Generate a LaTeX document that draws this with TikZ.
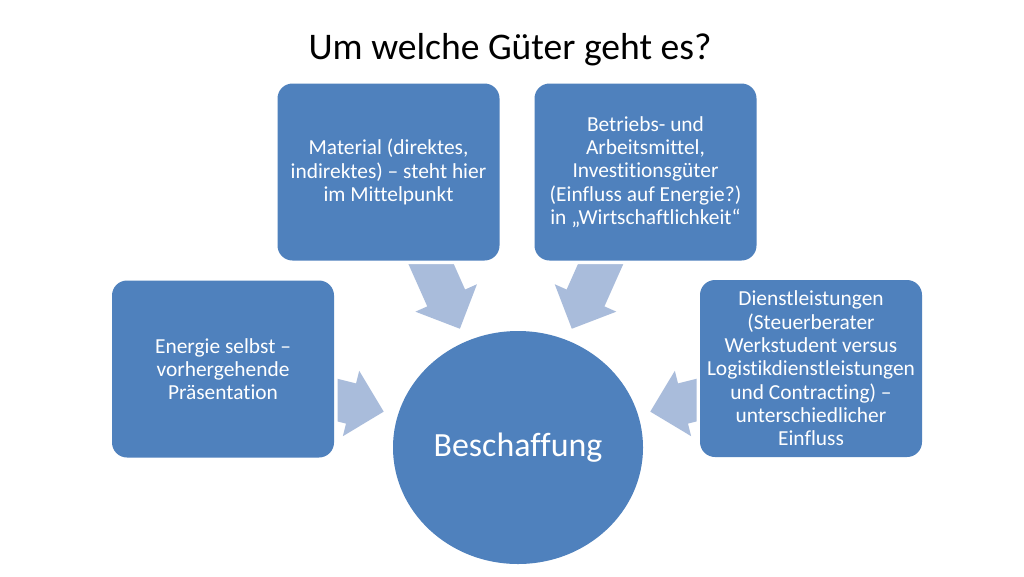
\documentclass[tikz,border=0pt]{standalone}
\usepackage{fontspec}
\setmainfont{Carlito}[Ligatures={NoCommon}]
\usetikzlibrary{shapes.arrows,shapes.geometric}
\definecolor{boxblue}{HTML}{4F81BD}
\definecolor{arrowblue}{HTML}{A9BCDB}
\begin{document}
\begin{tikzpicture}[x=1pt,y=-1pt,
  gbox/.style={rectangle, rounded corners=15pt, fill=boxblue, minimum width=222pt,
    minimum height=177pt, inner sep=0pt, text=white, align=center,
    font=\fontsize{21.4}{23.3}\selectfont, preaction={draw=white,line width=7pt}},
  barrow/.style={single arrow, fill=arrowblue, draw=none, minimum height=95pt,
    minimum width=67pt, inner xsep=0pt, inner ysep=20.5pt,
    single arrow head extend=13pt, anchor=tip}]
\useasboundingbox[fill=white] (0,0) rectangle (1024,576);
\node (title) [anchor=base, font=\fontsize{37.6}{45}\selectfont] at (510,59) {Um welche Güter geht es?};
% block arrows
\node (a1) [barrow, rotate=-66] at (460,329) {};
\node (a2) [barrow, rotate=-114] at (571.7,329) {};
\node (a3) [barrow, rotate=-14] at (384,411.7) {};
\node (a4) [barrow, rotate=-166] at (650,411.7) {};
% boxes
\node (mat) [gbox] at (388.5,172) {Material (direktes,\\ indirektes) – steht hier\\ im Mittelpunkt};
\node (betr) [gbox] at (645.5,172) {Betriebs- und\\ Arbeitsmittel,\\ Investitionsgüter\\ (Einfluss auf Energie?)\\ in „Wirtschaftlichkeit“};
\node (ener) [gbox] at (223,369) {Energie selbst –\\ vorhergehende\\ Präsentation};
\node (dienst) [gbox] at (811,368.5) {Dienstleistungen\\ (Steuerberater\\ Werkstudent versus\\ Logistikdienstleistungen\\ und Contracting) –\\ unterschiedlicher\\ Einfluss};
% centre
\node (besch) [ellipse, fill=boxblue, minimum width=250pt, minimum height=233pt,
  inner sep=0pt, text=white, font=\fontsize{33.9}{40}\selectfont,
  preaction={draw=white,line width=5pt}] at (518,447.5) {Beschaffung};
\end{tikzpicture}
\end{document}
